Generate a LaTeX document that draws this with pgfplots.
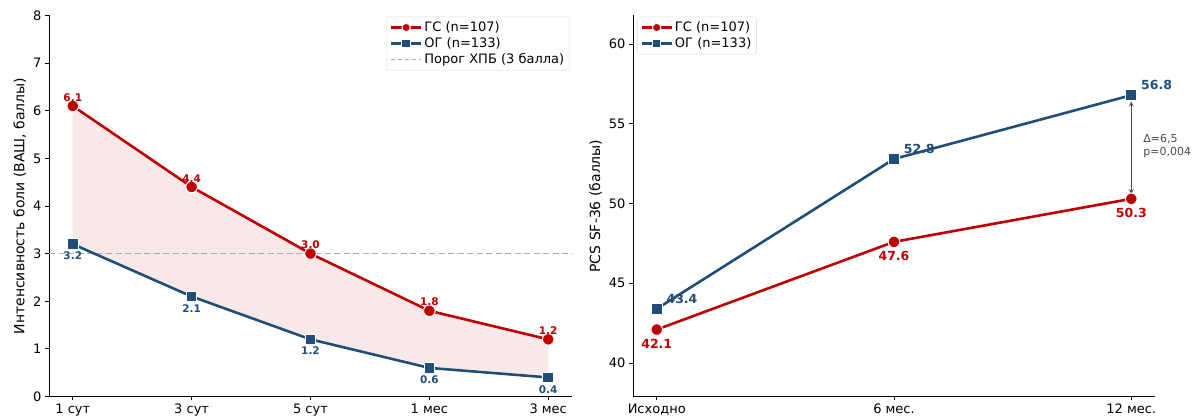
\documentclass[border=0pt]{standalone}
\usepackage{pgfplots}
\pgfplotsset{compat=1.18}
\usepackage{fontspec}
\setmainfont{DejaVu Sans}
\definecolor{cred}{HTML}{C00000}
\definecolor{cblue}{HTML}{1F4E79}
\pgfplotsset{
  /pgf/number format/assume math mode=true,
  every axis/.style={
    scale only axis, clip=false,
    axis x line*=bottom, axis y line*=left,
    axis line style={black, line width=0.8pt, -},
    tick align=outside, major tick length=4pt,
    tick style={black, line width=0.8pt},
    tick label style={font=\fontsize{13}{15}\selectfont},
    label style={font=\fontsize{14}{16}\selectfont},
    legend style={font=\fontsize{13}{15}\selectfont, draw=gray!30, rounded corners=2pt, inner sep=3pt, row sep=0.5pt},
    legend cell align=left,
    legend image code/.code={\draw[mark repeat=2,mark phase=2,##1, mark size=4.2pt] plot coordinates {(0pt,0pt) (15pt,0pt) (30pt,0pt)};},
  },
  redser/.style={cred, line width=2.6pt, mark=*, mark size=5.8pt, mark options={fill=cred, draw=white, line width=1pt, solid}},
  blueser/.style={cblue, line width=2.6pt, mark=square*, mark size=5.3pt, mark options={fill=cblue, draw=white, line width=1pt, solid}},
}
\begin{document}
\begin{tikzpicture}
\path[use as bounding box] (0,0) rectangle (1196pt,417pt);
% Left panel
\begin{axis}[
  at={(49pt,20.5pt)}, anchor=south west,
  width=523pt, height=381pt,
  xmin=-0.2, xmax=4.2, ymin=0, ymax=8,
  xtick={0,1,2,3,4}, xticklabels={1 сут,3 сут,5 сут,1 мес,3 мес},
  ytick={0,1,...,8},
  ylabel={Интенсивность боли (ВАШ, баллы)},
  legend style={at={(0.995,0.997)}, anchor=north east},
  nodes near coords={\pgfmathprintnumber[fixed,precision=1,fixed zerofill]{\pgfplotspointmeta}},
  every node near coord/.append style={font=\bfseries\fontsize{10.5}{12}\selectfont},
]
\addplot[fill=cred, fill opacity=0.09, draw=cred, draw opacity=0.09, forget plot, nodes near coords={}] coordinates {(0,6.1) (1,4.4) (2,3.0) (3,1.8) (4,1.2) (4,0.4) (3,0.6) (2,1.2) (1,2.1) (0,3.2)} -- cycle;
\addplot[gray!65, dash pattern=on 6pt off 3.5pt, line width=1.4pt, nodes near coords={}, forget plot] coordinates {(-0.2,3) (4.2,3)};
\addplot[redser, every node near coord/.append style={cred, anchor=south, yshift=1pt}] coordinates {(0,6.1) (1,4.4) (2,3.0) (3,1.8) (4,1.2)};
\addlegendentry{ГС (n=107)}
\addplot[blueser, every node near coord/.append style={cblue, anchor=north, yshift=-4pt}] coordinates {(0,3.2) (1,2.1) (2,1.2) (3,0.6) (4,0.4)};
\addlegendentry{ОГ (n=133)}
\addlegendimage{gray!65, dash pattern=on 4pt off 3pt, line width=1.2pt}
\addlegendentry{Порог ХПБ (3 балла)}
\end{axis}
% Right panel
\begin{axis}[
  at={(633pt,20.5pt)}, anchor=south west,
  width=522pt, height=381pt,
  xmin=-0.1, xmax=2.1, ymin=37.9, ymax=61.8,
  xtick={0,1,2}, xticklabels={Исходно,6 мес.,12 мес.},
  ytick={40,45,...,60},
  ylabel={PCS SF-36 (баллы)},
  legend style={at={(0.008,0.997)}, anchor=north west},
  nodes near coords={\pgfmathprintnumber[fixed,precision=1,fixed zerofill]{\pgfplotspointmeta}},
  every node near coord/.append style={font=\bfseries\fontsize{12.5}{14}\selectfont},
]
\addplot[redser, every node near coord/.append style={cred, anchor=north, yshift=-6pt}] coordinates {(0,42.1) (1,47.6) (2,50.3)};
\addlegendentry{ГС (n=107)}
\addplot[blueser, every node near coord/.append style={cblue, anchor=west, xshift=6pt, yshift=10pt}] coordinates {(0,43.4) (1,52.8) (2,56.8)};
\addlegendentry{ОГ (n=133)}
\draw[<->, >=stealth, line width=1.2pt, black!70] (axis cs:2,56.4) -- (axis cs:2,50.6);
\node[anchor=west, align=left, text=black!70, font=\fontsize{11}{13}\selectfont, inner sep=0pt] at (axis cs:2.05,53.6) {Δ=6,5\\p=0,004};
\end{axis}
\end{tikzpicture}
\end{document}
